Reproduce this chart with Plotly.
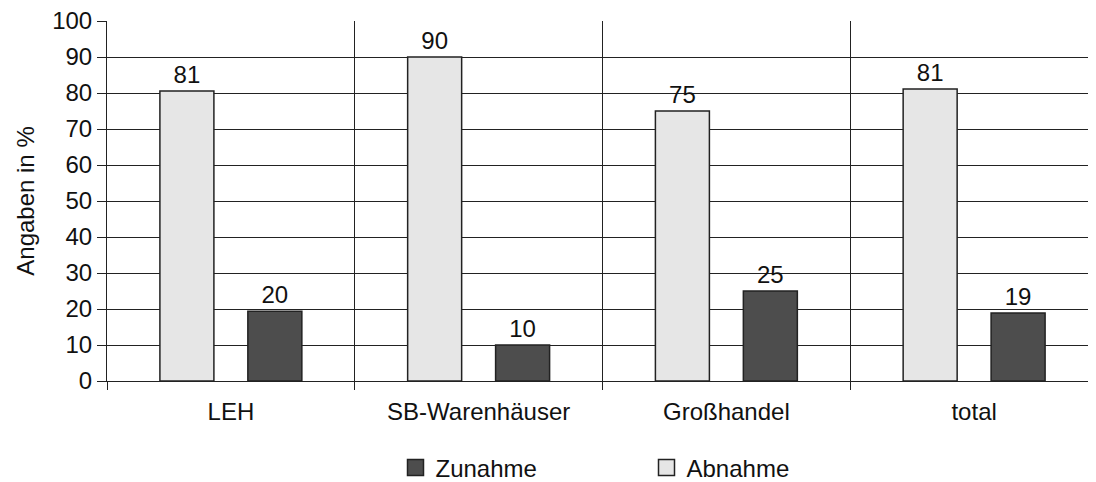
import plotly.graph_objects as go

categories = ["LEH", "SB-Warenhäuser", "Großhandel", "total"]
abnahme = [80.6, 90.0, 75.0, 81.1]
zunahme = [19.4, 10.0, 25.0, 18.9]
abnahme_labels = ["81", "90", "75", "81"]
zunahme_labels = ["20", "10", "25", "19"]
y_ticks = list(range(0, 101, 10))

FONT = "Liberation Sans, Arial, sans-serif"
FS = 24
LIGHT = "#e6e6e6"
DARK = "#4d4d4d"
EDGE = "#222222"

fig = go.Figure()
fig.add_trace(go.Bar(
    name="Abnahme", x=categories, y=abnahme, text=abnahme_labels,
    textposition="outside", cliponaxis=False, showlegend=False,
    marker=dict(color=LIGHT, line=dict(color=EDGE, width=1.5)),
    textfont=dict(size=FS, color="#111111", family=FONT),
))
fig.add_trace(go.Bar(
    name="Zunahme", x=categories, y=zunahme, text=zunahme_labels,
    textposition="outside", cliponaxis=False, showlegend=False,
    marker=dict(color=DARK, line=dict(color=EDGE, width=1.5)),
    textfont=dict(size=FS, color="#111111", family=FONT),
))
# legend entries (square swatches)
for nm, col in [("Zunahme", DARK), ("Abnahme", LIGHT)]:
    fig.add_trace(go.Scatter(
        name=nm, x=[None], y=[None], mode="markers",
        marker=dict(symbol="square", size=16, color=col, line=dict(color=EDGE, width=1.5)),
        showlegend=True, hoverinfo="skip",
    ))

fig.update_layout(
    width=1096, height=482,
    margin=dict(l=99, r=6, t=13, b=109, autoexpand=False),
    paper_bgcolor="white", plot_bgcolor="white",
    barmode="group", bargap=0.29, bargroupgap=0.386,
    font=dict(family=FONT, size=FS, color="#111111"),
    showlegend=True,
    legend=dict(
        orientation="h", x=0.5444, xanchor="center", xref="paper",
        y=-0.2417, yanchor="middle", yref="paper",
        entrywidth=206, entrywidthmode="pixels",
        itemsizing="trace",
        font=dict(size=FS, family=FONT, color="#111111"),
        traceorder="normal",
    ),
    xaxis=dict(
        type="category", tickson="boundaries",
        showgrid=True, gridcolor=EDGE, gridwidth=1,
        ticks="outside", ticklen=8, tickcolor=EDGE, tickwidth=1,
        showline=True, linecolor=EDGE, linewidth=1,
        ticklabelstandoff=9,
        tickfont=dict(size=FS, family=FONT, color="#111111"),
    ),
    yaxis=dict(
        range=[0, 100.02], tickvals=y_ticks,
        showgrid=True, gridcolor=EDGE, gridwidth=1,
        ticks="outside", ticklen=9, tickcolor=EDGE, tickwidth=1,
        showline=True, linecolor=EDGE, linewidth=1,
        zeroline=False, ticklabeloverflow="allow",
        tickfont=dict(size=FS, family=FONT, color="#111111"),
        title=dict(text="Angaben in %", font=dict(size=FS, family=FONT, color="#111111"), standoff=10),
    ),
)

fig.write_html("out.html")
